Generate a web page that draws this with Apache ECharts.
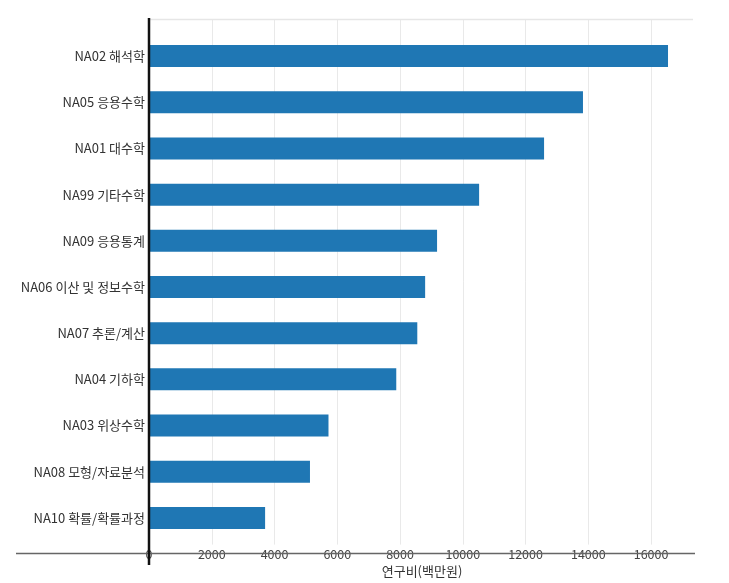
<!DOCTYPE html>
<html>
<head>
<meta charset="utf-8">
<script src="https://cdn.jsdelivr.net/npm/echarts@6/dist/echarts.min.js"></script>
<style>
html,body{margin:0;padding:0;background:#fff;}
#main{width:729px;height:583px;}
</style>
</head>
<body>
<div id="main"></div>
<script>
const categories = ['NA02 해석학','NA05 응용수학','NA01 대수학','NA99 기타수학','NA09 응용통계','NA06 이산 및 정보수학','NA07 추론/계산','NA04 기하학','NA03 위상수학','NA08 모형/자료분석','NA10 확률/확률과정'];
const values = [16540, 13830, 12590, 10520, 9180, 8800, 8550, 7880, 5720, 5130, 3700];
const xTickInterval = 2000;
const xMax = 17400;
const xAxisName = '연구비(백만원)';

const FONT = '"Noto Sans CJK KR", "Noto Sans", sans-serif';
const chart = echarts.init(document.getElementById('main'), null, {renderer: 'canvas'});

const GL = 149, GR = 34;
chart.setOption({
  animation: false,
  backgroundColor: '#fff',
  grid: [
    {left: GL, right: GR, top: 19, bottom: 29},
    {left: GL, right: GR, top: 33, bottom: 42}
  ],
  xAxis: [
    {
      type: 'value', gridIndex: 0, min: 0, max: xMax, interval: xTickInterval,
      position: 'bottom',
      axisLine: {show: false, onZero: false}, axisTick: {show: false},
      splitLine: {show: true, showMaxLine: false, lineStyle: {color: '#e9e9e9', width: 1}},
      axisLabel: {show: true, showMaxLabel: false, color: '#444', fontSize: 12.5, fontFamily: FONT, margin: 3,
        formatter: function (v) { return String(v); }},
      name: xAxisName, nameLocation: 'middle', nameGap: 14,
      nameTextStyle: {color: '#333', fontSize: 13, fontFamily: FONT}
    },
    {
      type: 'value', gridIndex: 1, min: 0, max: xMax, interval: xTickInterval,
      show: false
    }
  ],
  yAxis: [
    {type: 'value', gridIndex: 0, show: false, min: 0, max: 1},
    {
      type: 'category', gridIndex: 1, data: categories, inverse: true,
      axisLine: {show: false}, axisTick: {show: false}, splitLine: {show: false},
      axisLabel: {color: '#333', fontSize: 13, fontFamily: FONT, margin: 4}
    }
  ],
  series: [{
    type: 'bar', xAxisIndex: 1, yAxisIndex: 1, data: values,
    barWidth: 22,
    itemStyle: {color: '#1f77b4'}
  }],
  graphic: [
    {type: 'line', shape: {x1: GL, y1: 19.5, x2: 693, y2: 19.5}, style: {stroke: '#e6e6e6', lineWidth: 1.5}, z: 1},
    {type: 'line', shape: {x1: 16, y1: 553.5, x2: 695, y2: 553.5}, style: {stroke: '#666', lineWidth: 1.5}, z: 10},
    {type: 'line', shape: {x1: 149, y1: 18, x2: 149, y2: 565}, style: {stroke: '#111', lineWidth: 2.5}, z: 11}
  ]
});
</script>
</body>
</html>
